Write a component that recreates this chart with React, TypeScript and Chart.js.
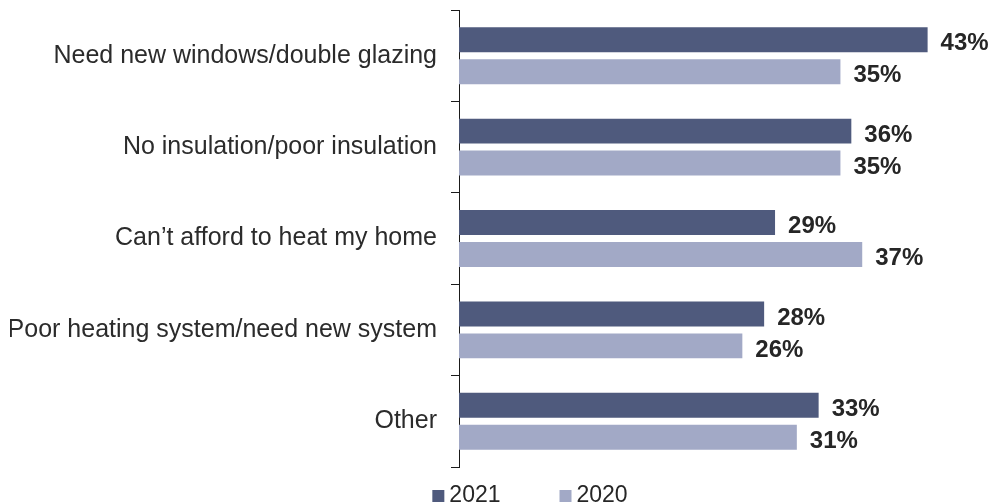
import React, { useEffect, useRef } from 'react';
import { Chart, registerables } from 'chart.js';

Chart.register(...registerables);

const categories = [
  'Need new windows/double glazing',
  'No insulation/poor insulation',
  'Can\u2019t afford to heat my home',
  'Poor heating system/need new system',
  'Other',
];
const values2021 = [43, 36, 29, 28, 33];
const values2020 = [35, 35, 37, 26, 31];
const seriesLabels = ['2021', '2020'];
const seriesColors = ['#4f5a7d', '#a2a9c6'];

const FONT = '"Liberation Sans", Arial, sans-serif';

const valueLabels = {
  id: 'valueLabels',
  afterDatasetsDraw(chart: any) {
    const ctx = chart.ctx;
    ctx.save();
    ctx.font = `bold 24px ${FONT}`;
    ctx.fillStyle = '#262626';
    ctx.textAlign = 'left';
    ctx.textBaseline = 'middle';
    chart.data.datasets.forEach((ds: any, i: number) => {
      const meta = chart.getDatasetMeta(i);
      meta.data.forEach((bar: any, j: number) => {
        ctx.fillText(`${ds.data[j]}%`, bar.x + 13, bar.y + 4);
      });
    });
    ctx.restore();
  },
};

const customLegend = {
  id: 'customLegend',
  afterDraw(chart: any) {
    const ctx = chart.ctx;
    ctx.save();
    ctx.font = `23px ${FONT}`;
    ctx.textAlign = 'left';
    ctx.textBaseline = 'alphabetic';
    const box = 12;
    const gapBox = 5;
    const gapItem = 59;
    const widths = seriesLabels.map((l) => ctx.measureText(l).width);
    const total = widths.reduce((a, w) => a + box + gapBox + w, 0) + gapItem * (seriesLabels.length - 1);
    const centerX = chart.chartArea.left + 71;
    const baseline = chart.height - 2;
    let x = centerX - total / 2;
    seriesLabels.forEach((l, i) => {
      ctx.fillStyle = seriesColors[i];
      ctx.fillRect(x, baseline - 12, box, box);
      ctx.fillStyle = '#262626';
      ctx.fillText(l, x + box + gapBox, baseline);
      x += box + gapBox + widths[i] + gapItem;
    });
    ctx.restore();
  },
};

export default function App() {
  const canvasRef = useRef<HTMLCanvasElement | null>(null);

  useEffect(() => {
    document.body.style.margin = '0';
    const canvas = canvasRef.current;
    if (!canvas) return;
    const chart = new Chart(canvas, {
      type: 'bar',
      data: {
        labels: categories,
        datasets: [
          {
            label: seriesLabels[0],
            data: values2021,
            backgroundColor: seriesColors[0],
            categoryPercentage: 0.7,
            barPercentage: 0.78,
          },
          {
            label: seriesLabels[1],
            data: values2020,
            backgroundColor: seriesColors[1],
            categoryPercentage: 0.7,
            barPercentage: 0.78,
          },
        ],
      },
      options: {
        indexAxis: 'y',
        animation: false,
        responsive: false,
        maintainAspectRatio: false,
        layout: { padding: { left: 10, top: 10, right: 2, bottom: 37 } },
        plugins: {
          legend: { display: false },
          tooltip: { enabled: false },
        },
        scales: {
          x: { display: false, min: 0, max: 49 },
          y: {
            afterFit(scale: any) {
              scale.width = 449;
              scale.paddingTop = 0;
              scale.paddingBottom = 0;
            },
            border: { display: true, color: '#1a1a1a', width: 1 },
            grid: {
              offset: true,
              drawOnChartArea: false,
              drawTicks: true,
              tickLength: 8,
              color: '#1a1a1a',
            },
            ticks: {
              padding: 14,
              color: '#2b2b2b',
              font: { family: FONT, size: 25 },
            },
          },
        },
      },
      plugins: [valueLabels, customLegend],
    });
    return () => chart.destroy();
  }, []);

  return (
    <div style={{ width: 995, height: 504 }}>
      <canvas ref={canvasRef} width={995} height={504} style={{ display: 'block' }} />
    </div>
  );
}
